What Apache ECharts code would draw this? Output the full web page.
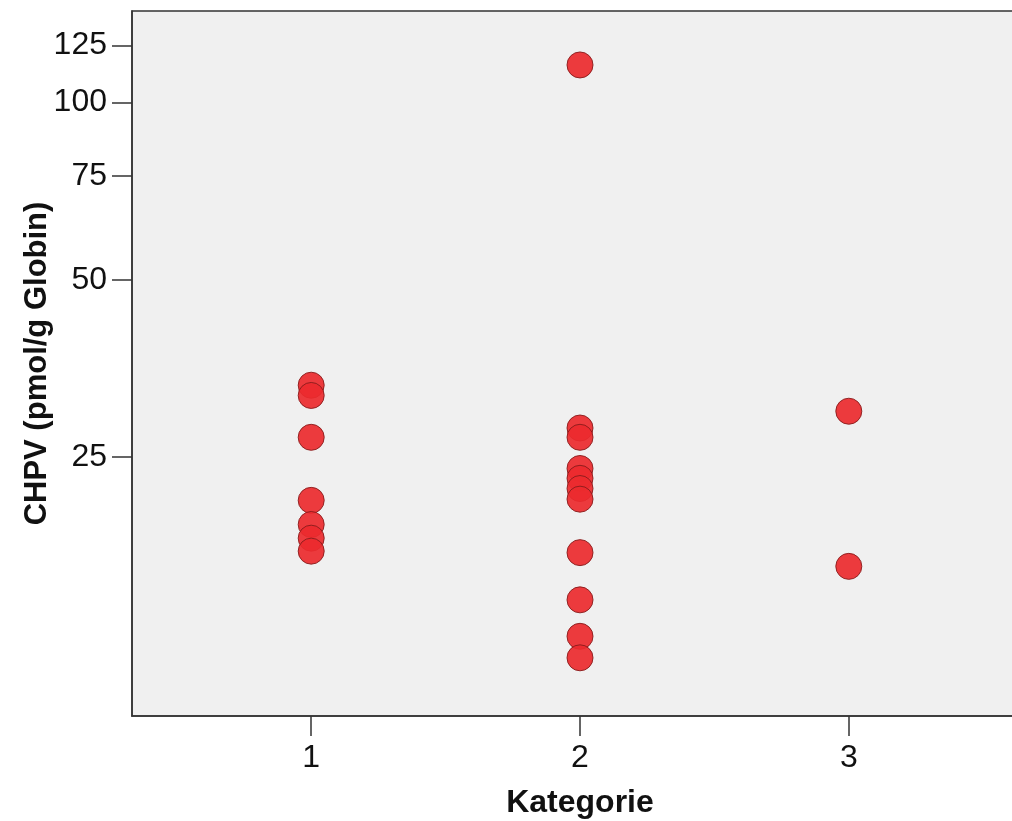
<!DOCTYPE html>
<html>
<head>
<meta charset="utf-8">
<script src="https://cdn.jsdelivr.net/npm/echarts@6/dist/echarts.min.js"></script>
<style>
  html, body { margin: 0; padding: 0; background: #ffffff; }
  #chart { width: 1012px; height: 821px; }
</style>
</head>
<body>
<div id="chart"></div>
<script>
// ---- Data ----
const categories = [1, 2, 3];
const kategorie1 = [33.1, 31.8, 27.0, 21.1, 19.2, 18.2, 17.3];
const kategorie2 = [115.8, 28.0, 27.0, 23.9, 23.0, 22.1, 21.2, 17.2, 14.3, 12.4, 11.4];
const kategorie3 = [29.9, 16.3];
const yTickValues = [25, 50, 75, 100, 125];
const xAxisTitle = 'Kategorie';
const yAxisTitle = 'CHPV (pmol/g Globin)';

const groups = [kategorie1, kategorie2, kategorie3];
const points = [];
groups.forEach((vals, i) => {
  vals.forEach(v => points.push([categories[i], v]));
});

const FONT = '"Liberation Sans", Arial, sans-serif';
const chart = echarts.init(document.getElementById('chart'), null, { renderer: 'canvas' });
chart.setOption({
  animation: false,
  backgroundColor: '#ffffff',
  grid: {
    left: 132, right: -16, top: 11, bottom: 105,
    outerBoundsMode: 'none',
    containLabel: false,
    show: true, backgroundColor: '#f0f0f0', borderColor: '#333333', borderWidth: 1.5
  },
  xAxis: {
    type: 'value',
    min: 1 / 3, max: 11 / 3,
    name: xAxisTitle,
    nameLocation: 'middle',
    nameGap: 71,
    nameMoveOverlap: false,
    nameTextStyle: { fontFamily: FONT, fontSize: 32, fontWeight: 'bold', color: '#111' },
    axisLine: { show: true, lineStyle: { color: '#333333', width: 1.5 } },
    axisTick: { show: true, length: 20, customValues: categories, lineStyle: { color: '#333333', width: 1.5 } },
    axisLabel: { customValues: categories, margin: 26, fontFamily: FONT, fontSize: 32, color: '#111' },
    splitLine: { show: false }
  },
  yAxis: {
    type: 'log',
    logBase: 10,
    min: 9.08, max: 143,
    name: yAxisTitle,
    nameLocation: 'middle',
    nameGap: 79,
    nameMoveOverlap: false,
    nameRotate: 90,
    nameTextStyle: { fontFamily: FONT, fontSize: 31, fontWeight: 'bold', color: '#111' },
    axisLine: { show: true, lineStyle: { color: '#333333', width: 1.5 } },
    axisTick: { show: true, length: 20, customValues: yTickValues, lineStyle: { color: '#333333', width: 1.5 } },
    axisLabel: { customValues: yTickValues, margin: 25, fontFamily: FONT, fontSize: 32, color: '#111',
      formatter: v => String(Math.round(v)) },
    splitLine: { show: false },
    minorTick: { show: false }
  },
  series: [{
    type: 'scatter',
    data: points,
    symbol: 'circle',
    symbolSize: 26,
    itemStyle: { color: '#ec2a2e', borderColor: '#8a1c1c', borderWidth: 1, opacity: 0.92 }
  }]
});
</script>
</body>
</html>
